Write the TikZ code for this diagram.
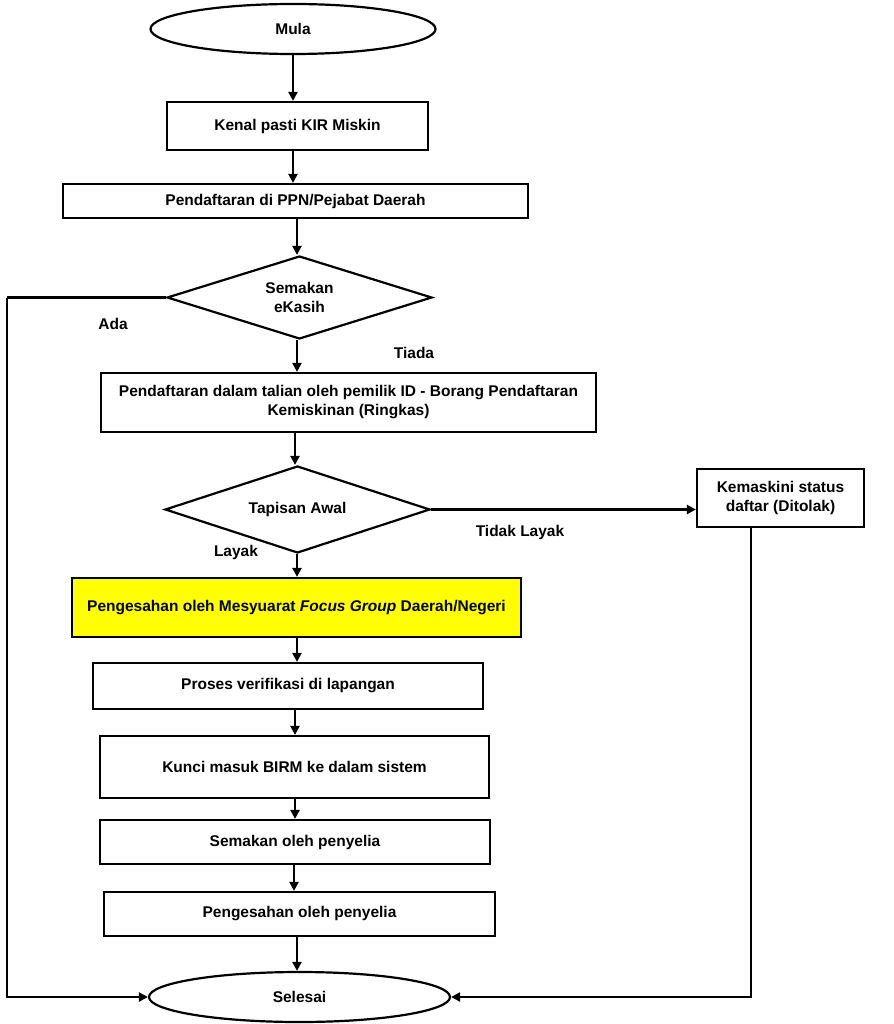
\documentclass[tikz,border=0pt]{standalone}
\usepackage{fontspec}
\setmainfont{Liberation Sans}
\usetikzlibrary{shapes.geometric,arrows.meta}
\definecolor{boxyellow}{RGB}{255,255,0}
\begin{document}
\begin{tikzpicture}[x=1pt,y=-1pt,
  every node/.style={font=\fontsize{15.5}{19}\selectfont\bfseries, align=center, inner sep=0pt},
  line/.style={line width=2.2pt},
  arr/.style={line width=2.2pt,-{Triangle[length=9pt,width=9pt]}},
  procbox/.style={draw, line width=2.2pt, rectangle},
  term/.style={draw, line width=2.2pt, ellipse},
  decision/.style={draw, line width=2.2pt, diamond},
  lbl/.style={font=\fontsize{15.5}{19}\selectfont\bfseries}
]
\useasboundingbox (0,0) rectangle (893,1024);
\node[term, minimum width=285, minimum height=50] (mula) at (293,29) {Mula};
\node[procbox, minimum width=261, minimum height=48] (kenal) at (297.5,126) {Kenal pasti KIR Miskin};
\node[procbox, minimum width=465, minimum height=34] (ppn) at (295.5,201) {Pendaftaran di PPN/Pejabat Daerah};
\node[decision, minimum width=265, minimum height=83] (semakan) at (299.5,297.5) {};
\node (semakantxt) at (semakan.center) {Semakan\\eKasih};
\node[procbox, minimum width=495, minimum height=59] (talian) at (348.5,402.5) {Pendaftaran dalam talian oleh pemilik ID - Borang Pendaftaran\\Kemiskinan (Ringkas)};
\node[decision, minimum width=265, minimum height=87] (tapisan) at (297.5,509.5) {};
\node (tapisantxt) at (tapisan.center) {Tapisan Awal};
\node[procbox, minimum width=167, minimum height=58] (kemas) at (780.5,498) {Kemaskini status\\daftar (Ditolak)};
\node[procbox, fill=boxyellow, minimum width=449, minimum height=59] (fg) at (296.5,607.5) {Pengesahan oleh Mesyuarat \textit{Focus Group} Daerah/Negeri};
\node[procbox, minimum width=390, minimum height=46] (proses) at (288,686) {Proses verifikasi di lapangan};
\node[procbox, minimum width=389, minimum height=62] (kunci) at (294.5,767) {Kunci masuk BIRM ke dalam sistem};
\node[procbox, minimum width=390, minimum height=44] (semak2) at (295,842) {Semakan oleh penyelia};
\node[procbox, minimum width=391, minimum height=44] (sah) at (299.5,914) {Pengesahan oleh penyelia};
\node[term, minimum width=301, minimum height=50] (selesai) at (299.5,997) {Selesai};

\node[lbl] (ada) at (113,324) {Ada};
\node[lbl] (tiada) at (414,353) {Tiada};
\node[lbl] (tl) at (520,532) {Tidak Layak};
\node[lbl] (layak) at (236,552) {Layak};

\coordinate (lx) at (7,297.5);
\coordinate (rx) at (751,527);

\draw[arr] (mula.south -| 293,0) -- (kenal.north -| 293,0);
\draw[arr] (kenal.south -| 293,0) -- (ppn.north -| 293,0);
\draw[arr] (ppn.south -| 297,0) -- (semakan.north -| 297,0);
\draw[arr] (semakan.south -| 297,0) -- (talian.north -| 297,0);
\draw[arr] (talian.south -| 295,0) -- (tapisan.north -| 295,0);
\draw[arr] (tapisan.south -| 297,0) -- (fg.north -| 297,0);
\draw[arr] (fg.south -| 297,0) -- (proses.north -| 297,0);
\draw[arr] (proses.south -| 295,0) -- (kunci.north -| 295,0);
\draw[arr] (kunci.south -| 295,0) -- (semak2.north -| 295,0);
\draw[arr] (semak2.south -| 294,0) -- (sah.north -| 294,0);
\draw[arr] (sah.south -| 297,0) -- (selesai.north -| 297,0);
\draw[arr] (tapisan.east) -- (kemas.west |- tapisan.east);
\draw[line] (semakan.west) -- (lx);
\draw[arr] (lx) |- (selesai.west);
\draw[arr] (rx) |- (selesai.east);
\end{tikzpicture}
\end{document}
